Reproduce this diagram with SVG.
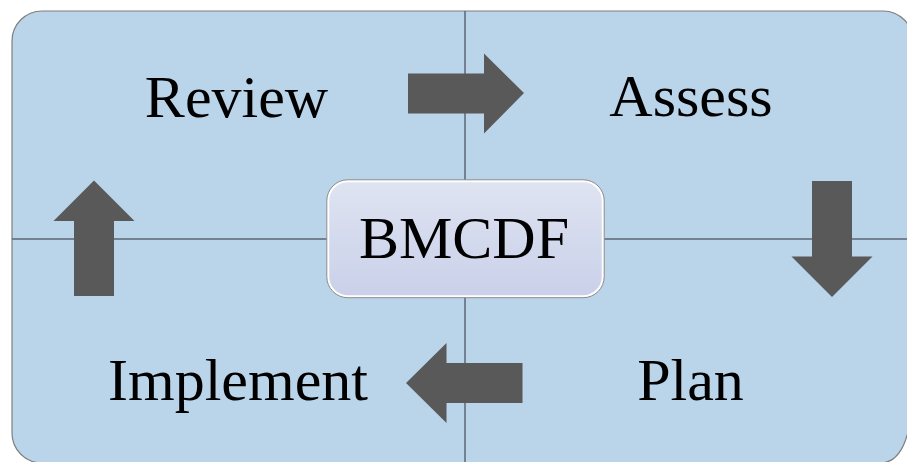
<svg xmlns="http://www.w3.org/2000/svg" width="907" height="462" viewBox="0 0 907 462">
  <defs>
    <linearGradient id="cg" x1="0" y1="0" x2="0" y2="1">
      <stop offset="0" stop-color="#DEE4F1"/>
      <stop offset="1" stop-color="#CAD0E9"/>
    </linearGradient>
  </defs>
  <style>
    .q { fill: #BAD4EA; stroke: none; }
    .outline { fill: none; stroke: #7F7F7F; stroke-width: 1.2; }
    .div { stroke: #5B6675; stroke-width: 1.5; }
    .lbl { font-family: "Liberation Serif", "Times New Roman", serif; font-size: 60px; fill: #000; text-anchor: middle; }
    .arrow { fill: #595959; stroke: none; }
  </style>
  <rect width="907" height="462" fill="#FFFFFF"/>

  <g id="review">
    <path class="q" d="M12,239 V41 A30,30 0 0 1 42,11 H465 V239 Z"/>
    <text class="lbl" x="236.5" y="117">Review</text>
  </g>
  <g id="assess">
    <path class="q" d="M465,11 H883 A30,30 0 0 1 913,41 V239 H465 Z"/>
    <text class="lbl" x="691" y="115.5">Assess</text>
  </g>
  <g id="plan">
    <path class="q" d="M465,239 H913 V380 C913,425 906,463 880,463 H465 Z"/>
    <text class="lbl" x="690.5" y="399.5">Plan</text>
  </g>
  <g id="implement">
    <path class="q" d="M12,239 H465 V463 H42 A30,30 0 0 1 12,433 Z"/>
    <text class="lbl" x="238" y="399.5">Implement</text>
  </g>

  <path class="outline" d="M12,41 A30,30 0 0 1 42,11 H883 A30,30 0 0 1 913,41 V380 C913,425 906,463 880,463 H42 A30,30 0 0 1 12,433 Z"/>
  <line class="div" x1="465" y1="11" x2="465" y2="463"/>
  <line class="div" x1="12" y1="239" x2="913" y2="239"/>

  <g id="connectors">
    <polygon class="arrow" points="408,73.5 484,73.5 484,53.5 524,93 484,133.5 484,113.5 408,113.5"/>
    <polygon class="arrow" points="812,181 852,181 852,256.5 872.5,256.5 832,297 791.5,256.5 812,256.5"/>
    <polygon class="arrow" points="522.5,363 446.5,363 446.5,343 406,383 446.5,423 446.5,403 522.5,403"/>
    <polygon class="arrow" points="74,296 114,296 114,221 134.5,221 94,180.5 53.5,221 74,221"/>
  </g>

  <g id="bmcdf">
    <rect x="328" y="181" width="275" height="115.5" rx="20" ry="20" fill="url(#cg)" stroke="#FFFFFF" stroke-width="2.5"/>
    <rect x="326.8" y="179.8" width="277.4" height="117.9" rx="21" ry="21" fill="none" stroke="#8A8A8A" stroke-width="1"/>
    <text class="lbl" x="464" y="257.5">BMCDF</text>
  </g>
</svg>
